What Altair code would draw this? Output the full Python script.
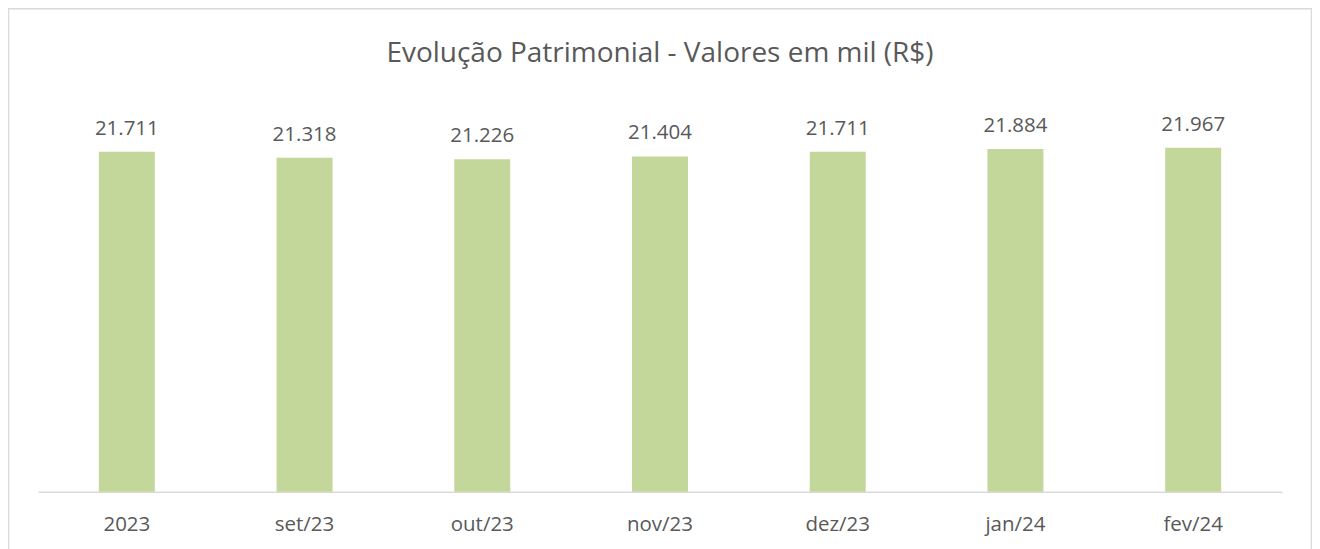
import altair as alt
import pandas as pd

categories = ["2023", "set/23", "out/23", "nov/23", "dez/23", "jan/24", "fev/24"]
values = [21711, 21318, 21226, 21404, 21711, 21884, 21967]
title_text = "Evolução Patrimonial - Valores em mil (R$)"

df = pd.DataFrame({"cat": categories, "value": values})

FONT = "Open Sans"
TXT = "#595959"
GRID = "#D9D9D9"
BAR = "#C4D79B"

x = alt.X("cat:N", sort=categories, title=None,
          scale=alt.Scale(paddingInner=0.685, paddingOuter=0.3425),
          axis=alt.Axis(labelAngle=0, labelFont=FONT, labelFontSize=20.5, labelColor=TXT,
                        labelBaseline="alphabetic", labelPadding=39, ticks=False, tickSize=0,
                        domainColor=GRID, domainWidth=1.5, grid=False))
y = alt.Y("value:Q", title=None, scale=alt.Scale(domain=[0, 25000], nice=False), axis=None)

base = alt.Chart(df)

bars = base.mark_bar(color=BAR).encode(x=x, y=y)

labels = base.transform_calculate(
    lab="format(datum.value / 1000, '.3f')"
).mark_text(font=FONT, fontSize=20.5, color=TXT, baseline="alphabetic", dy=-17).encode(
    x=x, y=y, text="lab:N"
)

border = alt.Chart(pd.DataFrame({"a": [0]})).mark_rect(
    fill=None, stroke=GRID, strokeWidth=1.5, clip=False
).encode(
    x=alt.value(-29.5), x2=alt.value(1274.5), y=alt.value(-91.5), y2=alt.value(700)
)

title = alt.Chart(pd.DataFrame({"t": [title_text]})).mark_text(
    font=FONT, fontSize=28, color=TXT, baseline="alphabetic", align="center"
).encode(x=alt.value(622.5), y=alt.value(-38), text="t:N")

chart = alt.layer(border, bars, labels, title).properties(
    width=1245, height=392,
    padding={"left": 30, "top": 92, "right": 30, "bottom": 60},
    autosize=alt.AutoSizeParams(type="none"),
).configure_view(strokeWidth=0)

chart.save("out.html", embed_options={"renderer": "svg", "actions": False})
